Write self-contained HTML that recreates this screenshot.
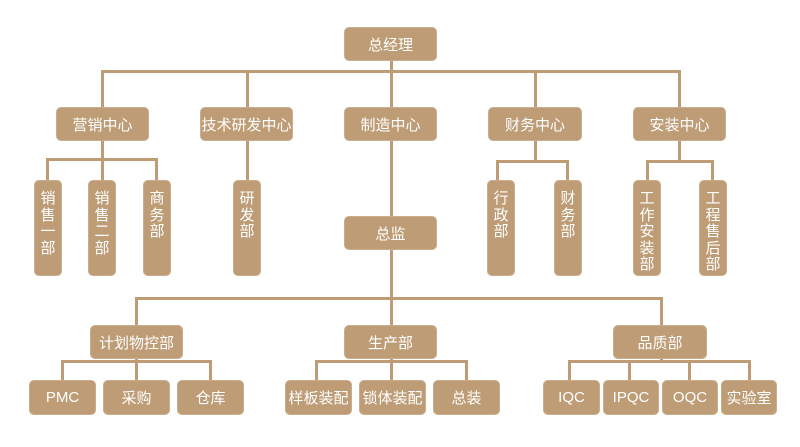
<!DOCTYPE html>
<html><head><meta charset="utf-8"><style>
body{margin:0;width:800px;height:447px;background:#fff;position:relative;overflow:hidden;font-family:"Liberation Sans","Noto Sans CJK SC",sans-serif}
.b{position:absolute;background:#bd9c76;border-radius:5px;color:#fff;font-size:15px;display:flex;align-items:center;justify-content:center;box-sizing:border-box;border:1px solid #c9ad8c}
.v{flex-direction:column;justify-content:flex-start;padding-top:10px;line-height:16.5px;font-size:15px;text-align:center}
.l{position:absolute;background:#bd9c76}
</style></head><body>
<div class="l" style="left:101px;top:70px;width:579px;height:3px"></div>
<div class="l" style="left:390px;top:60px;width:3px;height:265px"></div>
<div class="l" style="left:101px;top:70px;width:3px;height:37px"></div>
<div class="l" style="left:246px;top:70px;width:3px;height:37px"></div>
<div class="l" style="left:534px;top:70px;width:3px;height:37px"></div>
<div class="l" style="left:678px;top:70px;width:3px;height:37px"></div>
<div class="l" style="left:101px;top:140px;width:3px;height:20px"></div>
<div class="l" style="left:46px;top:158px;width:112px;height:3px"></div>
<div class="l" style="left:46px;top:158px;width:3px;height:22px"></div>
<div class="l" style="left:101px;top:158px;width:3px;height:22px"></div>
<div class="l" style="left:155px;top:158px;width:3px;height:22px"></div>
<div class="l" style="left:246px;top:140px;width:3px;height:40px"></div>
<div class="l" style="left:534px;top:140px;width:3px;height:22px"></div>
<div class="l" style="left:496px;top:160px;width:73px;height:3px"></div>
<div class="l" style="left:496px;top:160px;width:3px;height:20px"></div>
<div class="l" style="left:566px;top:160px;width:3px;height:20px"></div>
<div class="l" style="left:678px;top:140px;width:3px;height:22px"></div>
<div class="l" style="left:646px;top:160px;width:68px;height:3px"></div>
<div class="l" style="left:646px;top:160px;width:3px;height:20px"></div>
<div class="l" style="left:711px;top:160px;width:3px;height:20px"></div>
<div class="l" style="left:135px;top:297px;width:528px;height:3px"></div>
<div class="l" style="left:135px;top:297px;width:3px;height:28px"></div>
<div class="l" style="left:660px;top:297px;width:3px;height:28px"></div>
<div class="l" style="left:135px;top:358px;width:3px;height:4px"></div>
<div class="l" style="left:61px;top:360px;width:150px;height:3px"></div>
<div class="l" style="left:61px;top:360px;width:3px;height:20px"></div>
<div class="l" style="left:135px;top:360px;width:3px;height:20px"></div>
<div class="l" style="left:209px;top:360px;width:3px;height:20px"></div>
<div class="l" style="left:390px;top:358px;width:3px;height:22px"></div>
<div class="l" style="left:315px;top:360px;width:152px;height:3px"></div>
<div class="l" style="left:315px;top:360px;width:3px;height:20px"></div>
<div class="l" style="left:465px;top:360px;width:3px;height:20px"></div>
<div class="l" style="left:660px;top:358px;width:3px;height:4px"></div>
<div class="l" style="left:568px;top:360px;width:183px;height:3px"></div>
<div class="l" style="left:568px;top:360px;width:3px;height:20px"></div>
<div class="l" style="left:628px;top:360px;width:3px;height:20px"></div>
<div class="l" style="left:688px;top:360px;width:3px;height:20px"></div>
<div class="l" style="left:748px;top:360px;width:3px;height:20px"></div>
<div class="b" style="left:344px;top:27px;width:93px;height:34px">总经理</div>
<div class="b" style="left:56px;top:107px;width:93px;height:34px">营销中心</div>
<div class="b" style="left:200px;top:107px;width:93px;height:34px">技术研发中心</div>
<div class="b" style="left:344px;top:107px;width:93px;height:34px">制造中心</div>
<div class="b" style="left:488px;top:107px;width:94px;height:34px">财务中心</div>
<div class="b" style="left:633px;top:107px;width:93px;height:34px">安装中心</div>
<div class="b v" style="left:34px;top:180px;width:28px;height:96px">销<br>售<br>一<br>部</div>
<div class="b v" style="left:88px;top:180px;width:28px;height:96px">销<br>售<br>二<br>部</div>
<div class="b v" style="left:143px;top:180px;width:28px;height:96px">商<br>务<br>部</div>
<div class="b v" style="left:233px;top:180px;width:28px;height:96px">研<br>发<br>部</div>
<div class="b v" style="left:487px;top:180px;width:28px;height:96px">行<br>政<br>部</div>
<div class="b v" style="left:554px;top:180px;width:28px;height:96px">财<br>务<br>部</div>
<div class="b v" style="left:633px;top:180px;width:28px;height:96px">工<br>作<br>安<br>装<br>部</div>
<div class="b v" style="left:699px;top:180px;width:28px;height:96px">工<br>程<br>售<br>后<br>部</div>
<div class="b" style="left:344px;top:216px;width:93px;height:34px">总监</div>
<div class="b" style="left:90px;top:325px;width:93px;height:34px">计划物控部</div>
<div class="b" style="left:344px;top:325px;width:93px;height:34px">生产部</div>
<div class="b" style="left:613px;top:325px;width:94px;height:34px">品质部</div>
<div class="b" style="left:29px;top:380px;width:67px;height:35px">PMC</div>
<div class="b" style="left:103px;top:380px;width:67px;height:35px">采购</div>
<div class="b" style="left:177px;top:380px;width:67px;height:35px">仓库</div>
<div class="b" style="left:285px;top:380px;width:67px;height:35px">样板装配</div>
<div class="b" style="left:359px;top:380px;width:67px;height:35px">锁体装配</div>
<div class="b" style="left:433px;top:380px;width:67px;height:35px">总装</div>
<div class="b" style="left:543px;top:380px;width:57px;height:35px">IQC</div>
<div class="b" style="left:603px;top:380px;width:56px;height:35px">IPQC</div>
<div class="b" style="left:662px;top:380px;width:56px;height:35px">OQC</div>
<div class="b" style="left:721px;top:380px;width:56px;height:35px">实验室</div>
</body></html>
